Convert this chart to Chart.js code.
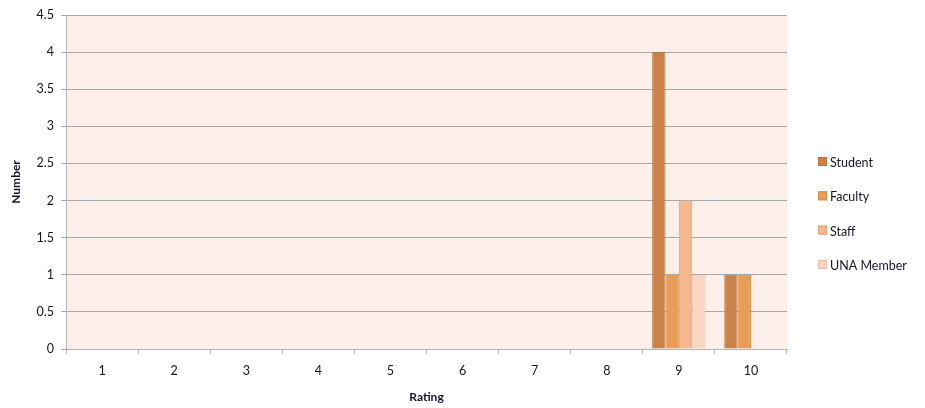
<!DOCTYPE html>
<html>
<head>
<meta charset="utf-8">
<script src="https://cdn.jsdelivr.net/npm/chart.js@4/dist/chart.umd.min.js"></script>
<style>
  html, body { margin: 0; padding: 0; background: #ffffff; }
  #wrap { width: 925px; height: 408px; position: relative; }
</style>
</head>
<body>
<div id="wrap"><canvas id="c" width="925" height="408"></canvas></div>
<script>
// Ratings given by each respondent group
const ratings = ['1', '2', '3', '4', '5', '6', '7', '8', '9', '10'];
const student   = [0, 0, 0, 0, 0, 0, 0, 0, 4, 1];
const faculty   = [0, 0, 0, 0, 0, 0, 0, 0, 1, 1];
const staff     = [0, 0, 0, 0, 0, 0, 0, 0, 2, 0];
const unaMember = [0, 0, 0, 0, 0, 0, 0, 0, 1, 0];
const groupNames = ['Student', 'Faculty', 'Staff', 'UNA Member'];

const fills   = ['#c9834a', '#e99c55', '#f5b88e', '#f9d6c3'];
const borders = ['#b87540', '#d98b47', '#e7a47a', '#eebfa8'];

const FONT = 'Lato, "Open Sans", sans-serif';
const TEXT = '#14142a';

// Pale panel behind the plotting area
const panelFill = {
  id: 'panelFill',
  beforeDraw(chart) {
    const a = chart.chartArea, ctx = chart.ctx;
    ctx.save();
    ctx.fillStyle = '#fcefea';
    ctx.fillRect(a.left, a.top, a.right - a.left, a.bottom - a.top);
    ctx.restore();
  }
};

// Vertical legend on the right-hand side
const sideLegend = {
  id: 'sideLegend',
  afterDraw(chart) {
    const ctx = chart.ctx;
    const x = 818, y0 = 162, step = 34.3;
    ctx.save();
    ctx.font = '12.5px ' + FONT;
    ctx.textBaseline = 'middle';
    chart.data.datasets.forEach((ds, i) => {
      const y = y0 + i * step;
      ctx.fillStyle = ds.backgroundColor;
      ctx.fillRect(x, y - 5, 9, 9);
      ctx.strokeStyle = ds.borderColor;
      ctx.lineWidth = 1;
      ctx.strokeRect(x + 0.5, y - 4.5, 8, 8);
      ctx.fillStyle = TEXT;
      ctx.fillText(ds.label, x + 12, y + 1);
    });
    ctx.restore();
  }
};

const seriesValues = [student, faculty, staff, unaMember];

new Chart(document.getElementById('c'), {
  type: 'bar',
  data: {
    labels: ratings,
    datasets: seriesValues.map((vals, i) => ({
      label: groupNames[i],
      data: vals,
      backgroundColor: fills[i],
      borderColor: borders[i],
      borderWidth: 1,
      barPercentage: 1,
      categoryPercentage: 0.74
    }))
  },
  options: {
    responsive: false,
    animation: false,
    layout: { padding: { top: 15, right: 138, left: 0, bottom: 0 } },
    plugins: {
      legend: { display: false },
      tooltip: { enabled: false }
    },
    scales: {
      x: {
        grid: {
          offset: true,
          drawOnChartArea: false,
          drawTicks: true,
          tickLength: 5,
          color: '#b5b5b5'
        },
        border: { color: '#b5b5b5', width: 1 },
        ticks: { color: TEXT, font: { family: FONT, size: 12.5 }, padding: 9, maxRotation: 0 },
        title: {
          display: true, text: 'Rating', color: TEXT,
          font: { family: FONT, size: 12, weight: 'bold' },
          padding: { top: 4, bottom: 4 }
        },
        afterFit(scale) { scale.height = 59; }
      },
      y: {
        min: 0, max: 4.5,
        ticks: {
          stepSize: 0.5, color: TEXT, font: { family: FONT, size: 12.5 }, padding: 7,
          callback: (v) => String(v)
        },
        grid: { color: '#a8a8a8', lineWidth: 1, tickLength: 5 },
        border: { color: '#b5b5b5', width: 1 },
        title: {
          display: true, text: 'Number', color: TEXT,
          font: { family: FONT, size: 12, weight: 'bold' },
          padding: { top: 9, bottom: 2 }
        },
        afterFit(scale) { scale.width = 66; }
      }
    }
  },
  plugins: [panelFill, sideLegend]
});
</script>
</body>
</html>
